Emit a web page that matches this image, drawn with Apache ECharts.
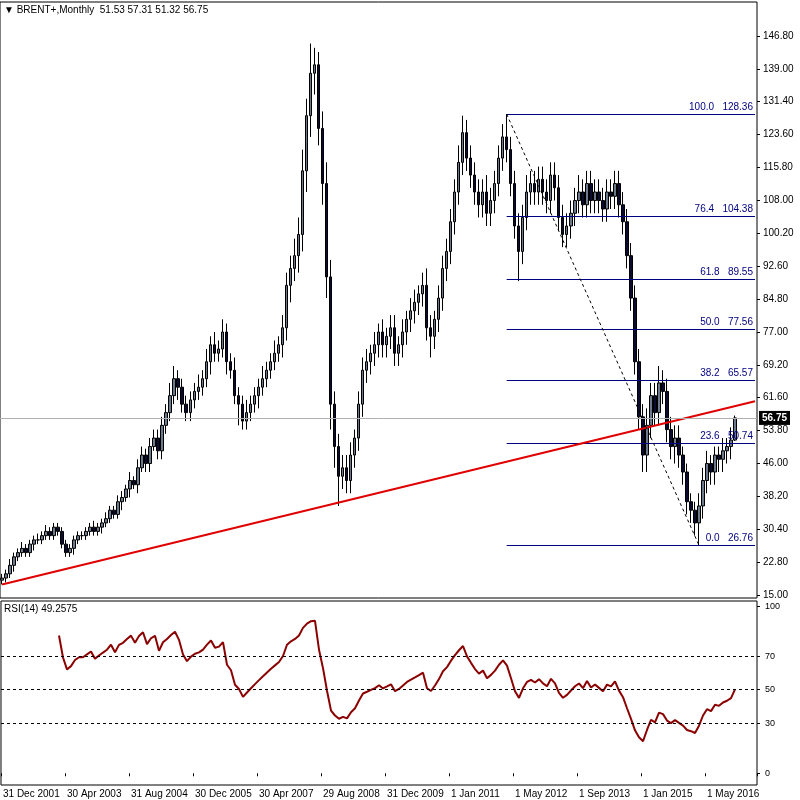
<!DOCTYPE html>
<html><head><meta charset="utf-8">
<script src="https://cdn.jsdelivr.net/npm/echarts@6/dist/echarts.min.js"></script>
<style>html,body{margin:0;background:#fff}#c{width:800px;height:800px}</style>
</head><body><div id="c"></div>
<script>
const closes=[19,20,22,24,25,26,25,27,28,28,29,30,29,31,30,
27,25,26,28,29,29,
30,31,30,31,32,33,35,34,37,38,
40,42,41,45,48,46,50,52,49,
55,58,62,66,64,
60,58,61,63,64,66,70,74,72,73,
77,70,68,62,60,56,
58,60,62,64,66,68,70,72,74,78,
88,92,95,100,115,128,138,140,
125,112,90,60,50,43,45,42,48,52,
60,68,70,72,74,77,74,76,78,72,
74,77,80,82,84,86,88,78,76,80,
85,92,96,103,110,117,124,118,114,110,
107,110,105,108,112,118,123,120,112,102,
96,104,110,112,110,113,110,108,114,111,
104,100,102,105,108,110,107,112,108,110,
108,106,110,109,112,107,103,95,85,70,
57,48,55,62,58,65,63,54,50,52,
48,44,37,35,32,36,42,46,44,48,
47,49,50,51.53,56.75];
const upWick=[1,1,1.5,1,1,1.5,1,1,1,1.5, 1,1.5,1,1,1,1,1,1,1,1, 1,1,1,1.5,1,1,1.5,1,1,1.5,
1.5,1,2,1,2,2,1.5,2,2,2, 2,2,3,3,2,2,2,2,2,3, 2,3,2,3,2,3,2,2,3,2, 2,3,2,2,2,3,2,2,3,2,
3,3,3,4,4,5,4,7,4,3, 4,5,4,3,3,3,3,3,2,3, 3,3,2,3,2,3,2,3,3,2, 3,2,3,3,2,3,4,3,2,3,
3,3,3,3,4,4,3,3,3,3, 3,4,3,3,3,3,5.36,3,3,3, 3,4,3,3,3,3,3,3,3,3, 3,3,3,3,4,3,3,3,3,3,
3,3,3,3,3,3,3,3,3,3, 3,4,3,3,4,3,3,3,3,3, 2,2,2,2,3,3,3,2,2,2, 3,2,3,0.56];
const downWick=[1,1,1,1.5,1,1,1,1,1.5,1, 1,1,1,1,1,1,1,1,1.5,1, 1,1,1,1,1,1.5,1,1,1,1,
2,1,2,1,2,1,2,2,1,2, 2,2,2,2,3,2,2,2,2,2, 2,2,3,2,2,2,3,2,2,5, 2,2,2,2,3,2,2,2,2,2,
3,3,4,3,4,4,5,5,5,4, 5,5,6,5,7,3,3,3,3,3, 3,3,3,3,3,3,3,3,3,3, 3,3,3,3,3,3,3,5,3,3,
3,3,3,3,3,3,3,3,3,3, 3,3,3,3,3,3,3,3,3,7, 3,3,3,3,3,3,3,3,3,3, 3,3,3,3,3,3,3,3,3,3,
3,3,3,3,3,3,3,3,3,3, 4,4,3,3,3,3,3,3,4,3, 3,3,3,3,5.24,3,3,3,3,3, 3,3,3,0.21];
const dateLabels=['31 Dec 2001','30 Apr 2003','31 Aug 2004','30 Dec 2005','30 Apr 2007','29 Aug 2008','31 Dec 2009','1 Jan 2011','1 May 2012','1 Sep 2013','1 Jan 2015','1 May 2016'];
const priceTicks=[15,22.8,30.4,38.2,46,53.8,61.6,69.2,77,84.8,92.6,100.2,108,115.8,123.6,131.4,139,146.8];
const fibLevels=[[100.0,128.36],[76.4,104.38],[61.8,89.55],[50.0,77.56],[38.2,65.57],[23.6,50.74],[0.0,26.76]];
const rsiTicks=[0,30,50,70,100];

const N=189;
const cats=[];for(let i=0;i<N;i++)cats.push(String(i));
const ohlc=closes.map((c,i)=>{const o=i?closes[i-1]:18.5;return[o,c,Math.min(o,c)-downWick[i],Math.max(o,c)+upWick[i]];});
// RSI(14), Wilder
const rsi=[];let ag=0,al=0;
for(let i=0;i<closes.length;i++){
 if(i==0){rsi.push(null);continue;}
 const d=closes[i]-closes[i-1],g=Math.max(d,0),l=Math.max(-d,0);
 if(i<=14){ag+=g/14;al+=l/14;rsi.push(i<14?null:100-100/(1+ag/al));}
 else{ag=(ag*13+g)/14;al=(al*13+l)/14;rsi.push(al==0?100:100-100/(1+ag/al));}
}
const fibStart=126,fibEnd=N-1;
const fibLines=fibLevels.map(f=>[{coord:[String(fibStart),f[1]],label:{formatter:f[0].toFixed(1)+'   '+f[1].toFixed(2)}},{coord:[String(fibEnd),f[1]]}]);
const font='"Liberation Sans", Arial, sans-serif';
const chart=echarts.init(document.getElementById('c'));
chart.setOption({
 animation:false,
 textStyle:{fontFamily:font},
 graphic:[
  {type:'text',left:4,top:5,style:{text:'▼ BRENT+,Monthly  51.53 57.31 51.32 56.75',font:'10px '+font,fill:'#000'}},
  {type:'text',left:4,top:604,style:{text:'RSI(14) 49.2575',font:'10px '+font,fill:'#000'}}
 ],
 grid:[{left:0,right:43,top:2,height:596,show:true,borderColor:'#000',borderWidth:1},
       {left:0,right:43,top:601,height:184,show:true,borderColor:'#000',borderWidth:1}],
 xAxis:[
  {type:'category',data:cats,gridIndex:0,boundaryGap:true,axisLine:{show:false},axisTick:{show:false},axisLabel:{show:false},splitLine:{show:false}},
  {type:'category',data:cats,gridIndex:1,boundaryGap:true,axisLine:{show:false},
   axisTick:{show:true,interval:i=>i%16==0,length:3,lineStyle:{color:'#000'}},
   axisLabel:{interval:i=>i%16==0,formatter:(v,i)=>dateLabels[i/16]||'',align:'left',fontSize:10,color:'#000',margin:4,fontFamily:font}}
 ],
 yAxis:[
  {type:'value',gridIndex:0,position:'right',min:14.3,max:154.8,splitLine:{show:false},axisLine:{show:false},
   axisTick:{show:true,customValues:priceTicks,length:3,lineStyle:{color:'#000'}},
   axisLabel:{customValues:priceTicks,formatter:v=>v.toFixed(2),fontSize:10,color:'#000',margin:6,fontFamily:font}},
  {type:'value',gridIndex:1,position:'right',min:-7,max:103,splitLine:{show:false},axisLine:{show:false},
   axisTick:{show:true,customValues:rsiTicks,length:3,lineStyle:{color:'#000'}},
   axisLabel:{customValues:rsiTicks,fontSize:9,color:'#000',margin:8,fontFamily:font}}
 ],
 series:[
  {type:'candlestick',xAxisIndex:0,yAxisIndex:0,data:ohlc,barWidth:3,
   itemStyle:{color:'#6b7a8c',color0:'#0b0b30',borderColor:'#000',borderColor0:'#000',borderWidth:1},
   markLine:{symbol:'none',silent:true,animation:false,data:[
     ...fibLines.map(l=>[{...l[0],lineStyle:{color:'#000080',width:1,type:'solid'},label:{...l[0].label,show:true,position:'insideEndTop',color:'#000080',fontSize:10,fontFamily:font,distance:[2,2]}},l[1]]),
     [{coord:['0',17.5],lineStyle:{color:'#e00000',width:2,type:'solid'},label:{show:false}},{coord:[String(N-1),60.7]}],
     [{coord:[String(fibStart),128.36],lineStyle:{color:'#000',width:1,type:[3,3]},label:{show:false}},{coord:['174',26.76]}],
     {yAxis:56.75,lineStyle:{color:'#b0b0b0',width:1,type:'solid'},label:{show:true,position:'end',formatter:'56.75',backgroundColor:'#000',color:'#fff',fontSize:10,fontWeight:'bold',fontFamily:font,padding:[2,3],distance:2}}
   ]}},
  {type:'line',xAxisIndex:1,yAxisIndex:1,data:rsi,symbol:'none',lineStyle:{color:'#8b0000',width:2},
   markLine:{symbol:'none',silent:true,animation:false,label:{show:false},lineStyle:{color:'#000',width:1,type:[3,3]},data:[{yAxis:30},{yAxis:50},{yAxis:70}]}}
 ]
});
</script></body></html>
